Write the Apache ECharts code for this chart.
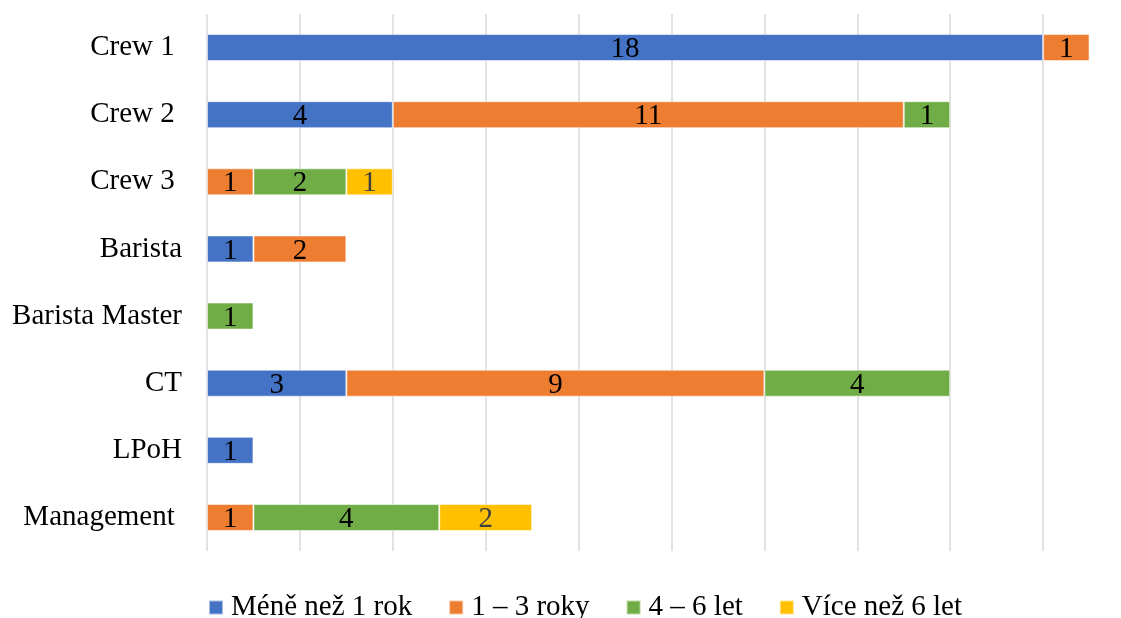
<!DOCTYPE html>
<html>
<head>
<meta charset="utf-8">
<script src="https://cdn.jsdelivr.net/npm/echarts@6/dist/echarts.min.js"></script>
<style>
  html, body { margin: 0; padding: 0; background: #fff; }
  #chart { width: 1121px; height: 618px; }
</style>
</head>
<body>
<div id="chart"></div>
<script>
// Positions, top to bottom
const categories = ['Crew 1 ', 'Crew 2 ', 'Crew 3 ', 'Barista', 'Barista Master', 'CT', 'LPoH', 'Management '];

// Number of people per tenure band ('-' = none)
const lessThan1 = [18, 4, '-', 1, '-', 3, 1, '-'];
const oneToThree = [1, 11, 1, 2, '-', 9, '-', 1];
const fourToSix = ['-', 1, 2, '-', 1, 4, '-', 4];
const moreThan6 = ['-', '-', 1, '-', '-', '-', '-', 2];

const seriesNames = ['Méně než 1 rok', '1 – 3 roky', '4 – 6 let', 'Více než 6 let'];
const seriesData = [lessThan1, oneToThree, fourToSix, moreThan6];
const colors = ['#4472C4', '#ED7D31', '#70AD47', '#FFC000'];
const labelColors = ['#000000', '#000000', '#000000', '#404040'];

const FONT = '"Liberation Serif", "Times New Roman", serif';
const FONT_SIZE = 29;

const chart = echarts.init(document.getElementById('chart'), null, { renderer: 'canvas' });

chart.setOption({
  animation: false,
  textStyle: { fontFamily: FONT },
  grid: {
    left: 207, top: 14, width: 929, height: 537,
    containLabel: false,
    outerBoundsMode: 'none'
  },
  xAxis: {
    type: 'value',
    min: 0,
    max: 20,
    interval: 2,
    axisLabel: { show: false },
    axisLine: { show: false },
    axisTick: { show: false },
    splitLine: { lineStyle: { color: '#D9D9D9', width: 1.5 } }
  },
  yAxis: {
    type: 'category',
    data: categories,
    inverse: true,
    axisLine: { show: false },
    axisTick: { show: false },
    axisLabel: {
      margin: 25,
      color: '#000',
      fontFamily: FONT,
      fontSize: FONT_SIZE,
      padding: [5, 0, 0, 0]
    }
  },
  legend: {
    left: 203,
    top: 588,
    itemWidth: 14,
    itemHeight: 14,
    itemGap: 36,
    icon: 'rect',
    textStyle: { fontFamily: FONT, fontSize: FONT_SIZE, color: '#000', padding: [0, 0, 0, 3] },
    data: seriesNames
  },
  series: seriesNames.map((name, i) => ({
    name,
    type: 'bar',
    stack: 'total',
    barWidth: 27,
    data: seriesData[i],
    itemStyle: { color: colors[i], borderColor: 'rgba(255,255,255,0.55)', borderWidth: 1 },
    label: {
      show: true,
      position: 'inside',
      offset: [0, 2],
      color: labelColors[i],
      fontFamily: FONT,
      fontSize: FONT_SIZE
    }
  }))
});
</script>
</body>
</html>
